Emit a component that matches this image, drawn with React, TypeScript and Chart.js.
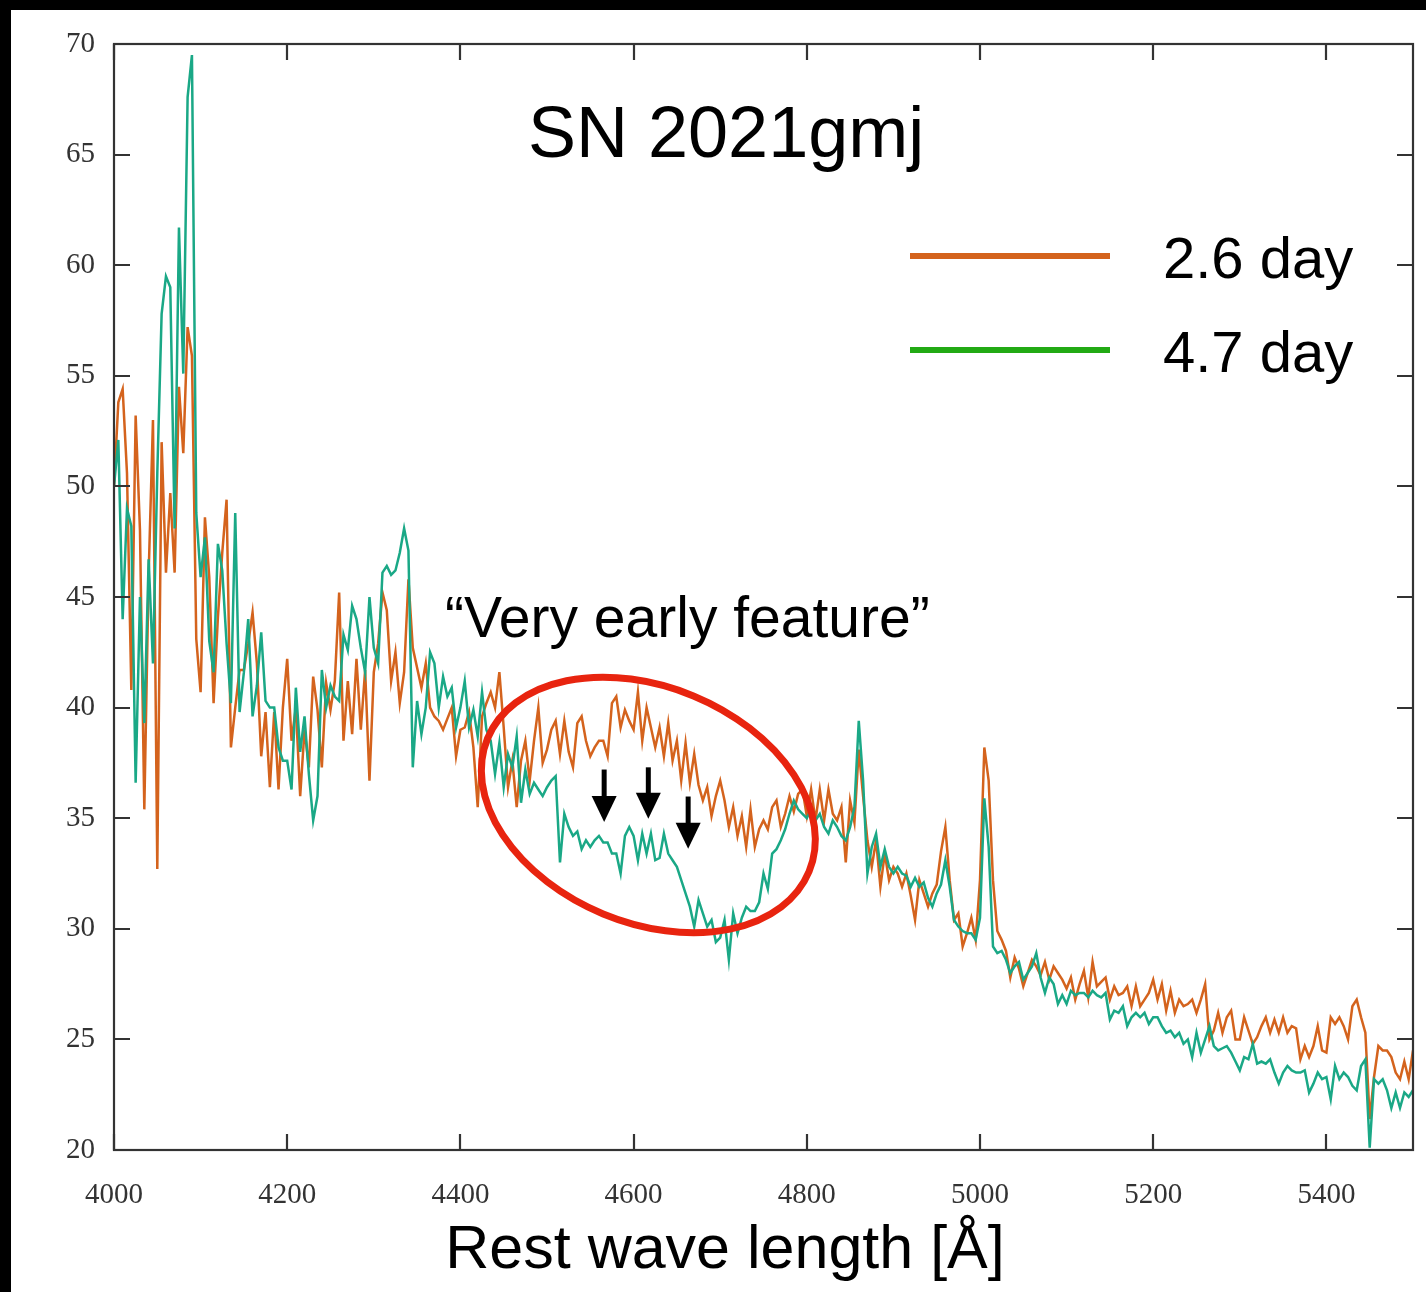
import React, { useEffect, useRef } from "react";
import { Chart, registerables } from "chart.js";

Chart.register(...registerables);

// ---- data ----
const WAVE_START = 4000; // Å, first sample
const WAVE_STEP = 5; // Å between samples

// SN 2021gmj flux, 2.6 day spectrum (one row per 100 Å)
const FLUX_DAY_2_6 = [
  50.0, 53.8, 54.4, 50.6, 40.8, 53.2, 48.0, 35.4, 46.0, 53.0, 32.7, 52.0, 46.1, 49.7, 46.1, 54.5, 51.5, 57.2, 55.9, 43.1,
  40.7, 48.6, 45.9, 40.2, 44.1, 47.0, 49.4, 38.2, 40.0, 41.7, 41.7, 42.9, 44.3, 42.0, 37.8, 39.8, 36.4, 39.8, 36.3, 40.0,
  42.2, 38.5, 40.0, 36.0, 39.0, 37.3, 41.4, 39.9, 37.3, 41.1, 39.9, 41.2, 45.2, 38.5, 41.2, 38.8, 42.2, 39.0, 41.7, 36.7,
  41.6, 42.9, 45.2, 44.4, 41.2, 42.5, 40.2, 41.6, 45.8, 42.7, 41.8, 40.9, 42.0, 40.0, 39.6, 39.4, 39.0, 39.5, 40.0, 37.8,
  39.0, 39.1, 39.8, 38.2, 35.5, 39.6, 40.2, 40.7, 40.0, 41.6, 39.1, 36.4, 37.6, 35.5, 37.6, 38.5, 36.7, 38.5, 40.0, 37.5,
  38.1, 39.0, 39.4, 37.9, 39.4, 38.0, 37.3, 39.3, 39.6, 38.5, 37.8, 38.2, 38.5, 38.5, 37.8, 40.2, 40.5, 39.1, 39.9, 39.4,
  39.0, 40.7, 38.5, 40.0, 39.1, 38.2, 39.1, 37.8, 39.3, 37.6, 38.5, 36.7, 38.4, 36.6, 37.9, 36.5, 35.8, 36.4, 35.1, 36.0,
  36.7, 35.8, 34.6, 35.5, 34.2, 35.1, 33.7, 35.4, 33.7, 34.5, 34.9, 34.5, 35.5, 35.8, 34.6, 35.2, 36.0, 35.3, 36.1, 36.3,
  35.1, 36.3, 34.9, 36.3, 34.9, 36.3, 35.2, 34.9, 35.5, 33.0, 35.8, 34.8, 38.1, 36.0, 34.0, 32.8, 34.0, 31.9, 33.4, 32.2,
  32.8, 32.5, 31.9, 32.5, 31.5, 30.4, 32.2, 31.6, 31.0, 31.6, 32.0, 33.5, 34.6, 32.2, 30.4, 30.7, 29.2, 29.8, 30.5, 29.5,
  32.2, 38.2, 36.7, 32.2, 29.9, 29.5, 29.0, 27.8, 28.7, 28.2, 27.4, 28.0, 28.6, 28.3, 27.9, 28.5, 27.7, 28.3, 28.0, 27.7,
  27.3, 27.8, 26.8, 27.5, 28.1, 26.9, 28.5, 27.4, 27.6, 27.8, 26.8, 27.4, 27.0, 27.1, 27.4, 26.5, 27.4, 26.5, 26.8, 27.1,
  27.7, 26.8, 27.5, 26.3, 27.2, 26.2, 26.8, 26.5, 26.6, 26.8, 26.2, 26.8, 27.5, 25.0, 25.4, 26.2, 25.3, 26.0, 26.3, 25.0,
  25.0, 26.0, 25.4, 24.8, 25.1, 25.6, 26.0, 25.3, 25.9, 25.3, 26.0, 25.3, 25.6, 25.5, 24.1, 24.7, 24.2, 24.7, 25.6, 24.5,
  24.4, 26.0, 25.7, 26.0, 25.6, 25.0, 26.5, 26.8, 26.0, 25.3, 21.4, 23.3, 24.7, 24.5, 24.5, 24.2, 23.5, 23.2, 24.0, 23.2, 24.5,
];

// SN 2021gmj flux, 4.7 day spectrum (one row per 100 Å)
const FLUX_DAY_4_7 = [
  50.0, 52.1, 44.0, 49.0, 48.2, 36.6, 45.0, 39.3, 46.7, 42.0, 50.6, 57.8, 59.5, 59.0, 48.1, 61.7, 55.1, 67.6, 69.5, 48.8,
  45.9, 47.7, 43.0, 41.6, 47.4, 46.2, 42.9, 40.2, 48.8, 39.8, 41.6, 44.0, 39.6, 41.0, 43.4, 40.3, 40.0, 40.0, 38.2, 37.6,
  37.6, 36.3, 40.9, 38.0, 39.6, 37.0, 34.9, 36.0, 41.7, 40.0, 41.0, 40.5, 40.3, 43.3, 42.6, 44.6, 44.0, 42.7, 41.6, 45.0,
  42.7, 42.0, 46.1, 46.4, 46.0, 46.2, 47.0, 48.1, 47.1, 37.3, 40.3, 38.8, 40.0, 42.5, 42.0, 40.0, 41.4, 40.5, 40.9, 39.1,
  40.0, 41.2, 39.1, 39.9, 38.7, 40.7, 39.0, 38.5, 37.0, 38.4, 36.4, 37.9, 37.3, 38.7, 35.7, 37.2, 36.1, 36.6, 36.3, 36.0,
  36.4, 36.7, 36.9, 33.0, 35.2, 34.6, 34.2, 34.4, 33.6, 34.0, 33.7, 34.0, 34.2, 33.9, 33.9, 33.4, 33.4, 32.5, 34.2, 34.6,
  34.2, 33.1, 34.3, 33.4, 34.3, 33.1, 33.2, 34.3, 33.4, 33.1, 32.8, 32.2, 31.6, 31.0, 30.1, 31.3, 30.7, 30.1, 30.4, 29.4,
  29.6, 30.4, 28.6, 30.7, 29.8, 30.5, 31.0, 30.8, 30.8, 31.2, 32.5, 31.8, 33.4, 33.6, 34.0, 34.5, 35.2, 35.8, 35.4, 35.2,
  35.0, 35.4, 34.9, 35.2, 34.6, 34.3, 34.9, 34.6, 34.2, 34.0, 34.6, 35.5, 39.4, 36.7, 32.5, 33.7, 34.3, 32.8, 33.6, 32.8,
  32.5, 32.8, 32.5, 32.4, 31.9, 32.3, 31.9, 32.1, 31.4, 31.0, 31.6, 32.0, 33.1, 31.9, 30.4, 30.1, 29.9, 29.8, 29.8, 29.5,
  30.5, 35.9, 33.7, 29.2, 28.9, 29.0, 28.6, 28.0, 28.3, 28.5, 27.7, 28.0, 28.3, 28.9, 27.8, 27.1, 27.8, 27.5, 26.6, 27.0,
  26.6, 27.2, 27.0, 27.1, 27.1, 26.9, 27.2, 27.0, 26.9, 27.1, 25.9, 26.3, 26.2, 26.5, 25.6, 26.0, 26.2, 26.0, 26.2, 25.7,
  26.0, 26.0, 25.6, 25.3, 25.4, 25.1, 25.3, 24.8, 25.0, 24.2, 25.3, 24.4, 25.0, 25.6, 24.7, 24.5, 24.6, 24.7, 24.4, 24.0,
  23.6, 24.2, 24.1, 24.8, 23.9, 24.0, 23.9, 24.1, 23.5, 23.0, 23.5, 23.8, 23.6, 23.5, 23.5, 23.6, 22.6, 23.0, 23.5, 23.2,
  23.3, 22.3, 23.8, 23.2, 23.5, 23.3, 22.9, 22.7, 23.8, 24.1, 20.1, 23.2, 23.0, 23.2, 22.7, 21.9, 22.6, 21.9, 22.6, 22.4, 22.7,
];

const SERIES_LABELS = ["2.6 day", "4.7 day"];
const X_TICKS = [4000, 4200, 4400, 4600, 4800, 5000, 5200, 5400];
const Y_TICKS = [20, 25, 30, 35, 40, 45, 50, 55, 60, 65, 70];
const X_RANGE = [4000, 5500];
const Y_RANGE = [20, 70];

const TITLE = "SN 2021gmj";
const ANNOTATION = "\u201CVery early feature\u201D";
const X_TITLE = "Rest wave length [\u00C5]";

// annotation marks (data coordinates: wavelength, flux)
const ELLIPSE_CENTER = [4617, 35.6];
const ARROW_WAVES = [4566, 4617, 4663];
const ARROW_TOPS = [37.2, 37.3, 35.98];
const ARROW_TIPS = [34.83, 34.97, 33.62];

// ---- styles ----
const W = 1426;
const H = 1292;
const ORANGE = "#d4631d";
const TEAL = "#1aa886";
const LEGEND_GREEN = "#22aa14";
const AXIS = "#333333";
const SANS = '"Liberation Sans", Arial, Helvetica, sans-serif';
const SERIF = '"Liberation Serif", "Times New Roman", serif';

function toPoints(values: number[]) {
  return values.map((y, i) => ({ x: WAVE_START + i * WAVE_STEP, y }));
}

const decor = {
  id: "decor",
  beforeDraw(chart: any) {
    const ctx = chart.ctx;
    ctx.save();
    ctx.fillStyle = "#ffffff";
    ctx.fillRect(0, 0, W, H);
    ctx.fillStyle = "#000000";
    ctx.fillRect(0, 0, W, 10);
    ctx.fillRect(0, 0, 11, H);
    ctx.restore();
  },
  afterDraw(chart: any) {
    const { ctx, chartArea: a, scales } = chart;
    const xs = scales.x;
    const ys = scales.y;
    ctx.save();

    // frame and inward ticks
    ctx.strokeStyle = AXIS;
    ctx.lineWidth = 2.2;
    ctx.strokeRect(a.left, a.top, a.right - a.left, a.bottom - a.top);
    ctx.beginPath();
    for (const t of X_TICKS) {
      const px = Math.round(xs.getPixelForValue(t));
      ctx.moveTo(px, a.bottom);
      ctx.lineTo(px, a.bottom - 16);
      ctx.moveTo(px, a.top);
      ctx.lineTo(px, a.top + 16);
    }
    for (const t of Y_TICKS) {
      const py = Math.round(ys.getPixelForValue(t));
      ctx.moveTo(a.left, py);
      ctx.lineTo(a.left + 16, py);
      ctx.moveTo(a.right, py);
      ctx.lineTo(a.right - 16, py);
    }
    ctx.stroke();

    // red ellipse
    const cx = xs.getPixelForValue(ELLIPSE_CENTER[0]);
    const cy = ys.getPixelForValue(ELLIPSE_CENTER[1]);
    ctx.beginPath();
    ctx.ellipse(cx, cy, 174, 118, (22.5 * Math.PI) / 180, 0, Math.PI * 2);
    ctx.strokeStyle = "#e8240f";
    ctx.lineWidth = 7;
    ctx.stroke();

    // arrows
    ctx.fillStyle = "#000";
    ctx.strokeStyle = "#000";
    for (let i = 0; i < ARROW_WAVES.length; i++) {
      const px = xs.getPixelForValue(ARROW_WAVES[i]);
      const top = ys.getPixelForValue(ARROW_TOPS[i]);
      const tip = ys.getPixelForValue(ARROW_TIPS[i]);
      const base = tip - 26;
      ctx.beginPath();
      ctx.lineWidth = 5;
      ctx.moveTo(px, top);
      ctx.lineTo(px, base + 2);
      ctx.stroke();
      ctx.beginPath();
      ctx.moveTo(px - 12.5, base);
      ctx.lineTo(px + 12.5, base);
      ctx.lineTo(px, tip);
      ctx.closePath();
      ctx.fill();
    }

    // texts
    ctx.fillStyle = "#000";
    ctx.textBaseline = "alphabetic";
    ctx.textAlign = "left";
    ctx.font = `72px ${SANS}`;
    ctx.fillText(TITLE, 528, 157);

    ctx.font = `57px ${SANS}`;
    ctx.fillText(ANNOTATION, 445, 637);

    ctx.textAlign = "center";
    ctx.font = `61px ${SANS}`;
    ctx.fillText(X_TITLE, 725, 1268);

    // legend
    const legendColors = [ORANGE, LEGEND_GREEN];
    const legendY = [256, 350];
    ctx.textAlign = "left";
    ctx.font = `58px ${SANS}`;
    for (let i = 0; i < SERIES_LABELS.length; i++) {
      ctx.beginPath();
      ctx.strokeStyle = legendColors[i];
      ctx.lineWidth = 6;
      ctx.moveTo(910, legendY[i]);
      ctx.lineTo(1110, legendY[i]);
      ctx.stroke();
      ctx.fillStyle = "#000";
      ctx.fillText(SERIES_LABELS[i], 1163, legendY[i] + 22);
    }
    ctx.restore();
  },
};

export default function App() {
  const ref = useRef<HTMLCanvasElement>(null);

  useEffect(() => {
    const canvas = ref.current;
    if (!canvas) return;
    const chart = new Chart(canvas, {
      type: "line",
      data: {
        datasets: [
          {
            label: SERIES_LABELS[1],
            data: toPoints(FLUX_DAY_4_7),
            borderColor: TEAL,
            borderWidth: 2.5,
            pointRadius: 0,
            tension: 0,
            order: 0,
          },
          {
            label: SERIES_LABELS[0],
            data: toPoints(FLUX_DAY_2_6),
            borderColor: ORANGE,
            borderWidth: 2.5,
            pointRadius: 0,
            tension: 0,
            order: 1,
          },
        ],
      },
      options: {
        responsive: false,
        animation: false,
        devicePixelRatio: 1,
        layout: { padding: { left: 0, top: 44, right: 13, bottom: 0 } },
        plugins: {
          legend: { display: false },
          tooltip: { enabled: false },
          title: { display: false },
        },
        scales: {
          x: {
            type: "linear",
            min: X_RANGE[0],
            max: X_RANGE[1],
            grid: { display: false, drawTicks: false },
            border: { display: false },
            afterBuildTicks: (scale: any) => {
              scale.ticks = X_TICKS.map((v) => ({ value: v }));
            },
            afterFit: (scale: any) => {
              scale.height = 142;
            },
            ticks: {
              autoSkip: false,
              maxRotation: 0,
              padding: 28,
              color: "#333",
              font: { family: SERIF, size: 29 },
              callback: (v: any) => String(v),
            },
          },
          y: {
            type: "linear",
            min: Y_RANGE[0],
            max: Y_RANGE[1],
            grid: { display: false, drawTicks: false },
            border: { display: false },
            afterBuildTicks: (scale: any) => {
              scale.ticks = Y_TICKS.map((v) => ({ value: v }));
            },
            afterFit: (scale: any) => {
              scale.width = 114;
            },
            ticks: {
              autoSkip: false,
              padding: 19,
              color: "#333",
              font: { family: SERIF, size: 29 },
              callback: (v: any) => String(v),
            },
          },
        },
      },
      plugins: [decor],
    } as any);
    return () => chart.destroy();
  }, []);

  return (
    <div style={{ position: "absolute", left: 0, top: 0, width: W, height: H }}>
      <canvas ref={ref} width={W} height={H} style={{ display: "block", width: W, height: H }} />
    </div>
  );
}
